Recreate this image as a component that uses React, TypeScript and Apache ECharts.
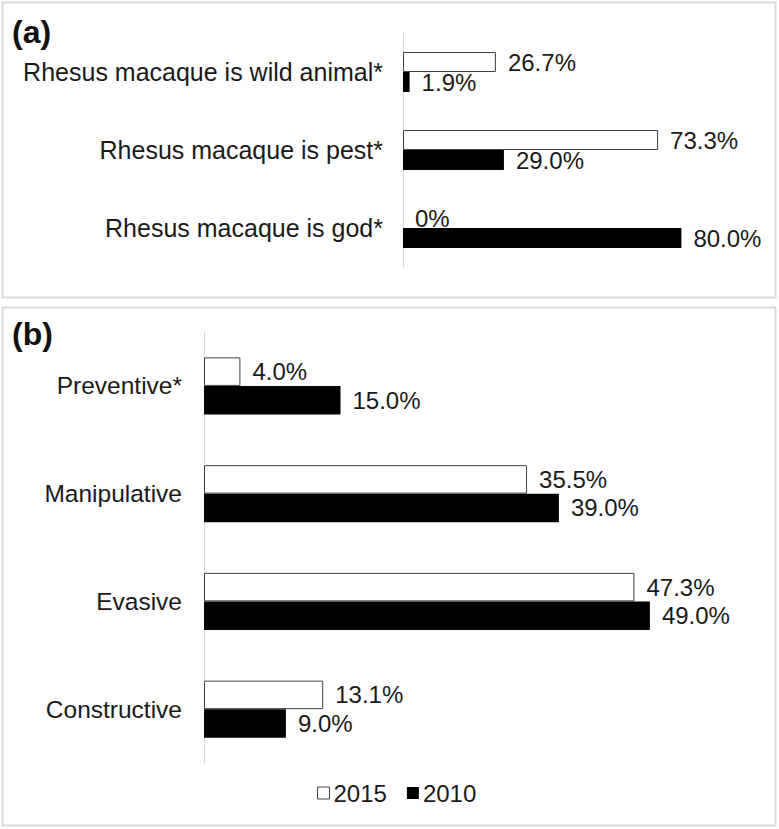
import React, { useEffect, useRef } from "react";
import * as echarts from "echarts";

const catsA = ["Rhesus macaque is wild animal*", "Rhesus macaque is pest*", "Rhesus macaque is god*"];
const a2015 = [26.7, 73.3, 0];
const a2010 = [1.9, 29.0, 80.0];

const catsB = ["Preventive*", "Manipulative", "Evasive", "Constructive"];
const b2015 = [4.0, 35.5, 47.3, 13.1];
const b2010 = [15.0, 39.0, 49.0, 9.0];

const seriesNames = ["2015", "2010"];
const panelTitles = ["(a)", "(b)"];

const FONT = "'Liberation Sans', Arial, sans-serif";
const TXT = "#1a1a1a";
const BORDER = "#d9d9d9";

const fmt = (p: any) => (p.value === 0 ? "0%" : Number(p.value).toFixed(1) + "%");

export default function App() {
  const ref = useRef<HTMLDivElement>(null);
  useEffect(() => {
    document.body.style.margin = "0";
    const chart = echarts.init(ref.current!, null, { renderer: "svg" });
    const label = {
      show: true,
      position: "right" as const,
      distance: 12,
      fontSize: 24,
      fontFamily: FONT,
      color: TXT,
      formatter: fmt,
    };
    const whiteStyle = { color: "#ffffff", borderColor: "#404040", borderWidth: 1 };
    const blackStyle = { color: "#000000" };
    const mk2015 = (arr: number[]) =>
      arr.map((v) => (v === 0 ? { value: v, itemStyle: { borderWidth: 0 } } : v));
    const yAxisBase = {
      type: "category" as const,
      inverse: true,
      axisLine: { show: true, lineStyle: { color: BORDER, width: 1 } },
      axisTick: { show: false },
    };
    chart.setOption({
      animation: false,
      textStyle: { fontFamily: FONT },
      grid: [
        { left: 403, width: 348, top: 33, height: 234 },
        { left: 204, width: 546, top: 332, height: 431 },
      ],
      xAxis: [
        { type: "value", gridIndex: 0, min: 0, max: 100, show: false, splitLine: { show: false } },
        { type: "value", gridIndex: 1, min: 0, max: 60, show: false, splitLine: { show: false } },
      ],
      yAxis: [
        { ...yAxisBase, gridIndex: 0, data: catsA, axisLabel: { fontSize: 25, fontFamily: FONT, color: TXT, margin: 20 } },
        { ...yAxisBase, gridIndex: 1, data: catsB, axisLabel: { fontSize: 24.5, fontFamily: FONT, color: TXT, margin: 22 } },
      ],
      legend: {
        data: [
          { name: seriesNames[0], itemStyle: whiteStyle },
          { name: seriesNames[1], itemStyle: blackStyle },
        ],
        left: 312,
        top: 776,
        icon: "rect",
        itemWidth: 12,
        itemHeight: 12,
        itemGap: 20,
        textStyle: { fontSize: 24, fontFamily: FONT, color: TXT, padding: [0, 0, 0, -1] },
      },
      series: [
        {
          name: seriesNames[0], type: "bar", xAxisIndex: 0, yAxisIndex: 0,
          data: mk2015(a2015), barWidth: 20, barGap: "0%", itemStyle: whiteStyle, label,
        },
        {
          name: seriesNames[1], type: "bar", xAxisIndex: 0, yAxisIndex: 0,
          data: a2010, barWidth: 20, barGap: "0%", itemStyle: blackStyle, label,
        },
        {
          name: seriesNames[0], type: "bar", xAxisIndex: 1, yAxisIndex: 1,
          data: mk2015(b2015), barWidth: 28.5, barGap: "0%", itemStyle: whiteStyle, label,
        },
        {
          name: seriesNames[1], type: "bar", xAxisIndex: 1, yAxisIndex: 1,
          data: b2010, barWidth: 28.5, barGap: "0%", itemStyle: blackStyle, label,
        },
      ],
      graphic: [
        { type: "rect", shape: { x: 2.5, y: 2.5, width: 773, height: 295 }, style: { fill: "none", stroke: BORDER, lineWidth: 2 }, silent: true },
        { type: "rect", shape: { x: 2.5, y: 307.5, width: 773, height: 518 }, style: { fill: "none", stroke: BORDER, lineWidth: 2 }, silent: true },
        { type: "text", x: 12, y: 32, style: { text: panelTitles[0], font: `bold 32px ${FONT}`, fill: "#111", textVerticalAlign: "middle" } },
        { type: "text", x: 12, y: 334, style: { text: panelTitles[1], font: `bold 32px ${FONT}`, fill: "#111", textVerticalAlign: "middle" } },
      ],
    });
    return () => chart.dispose();
  }, []);
  return <div ref={ref} style={{ width: 779, height: 829, background: "#fff" }} />;
}
